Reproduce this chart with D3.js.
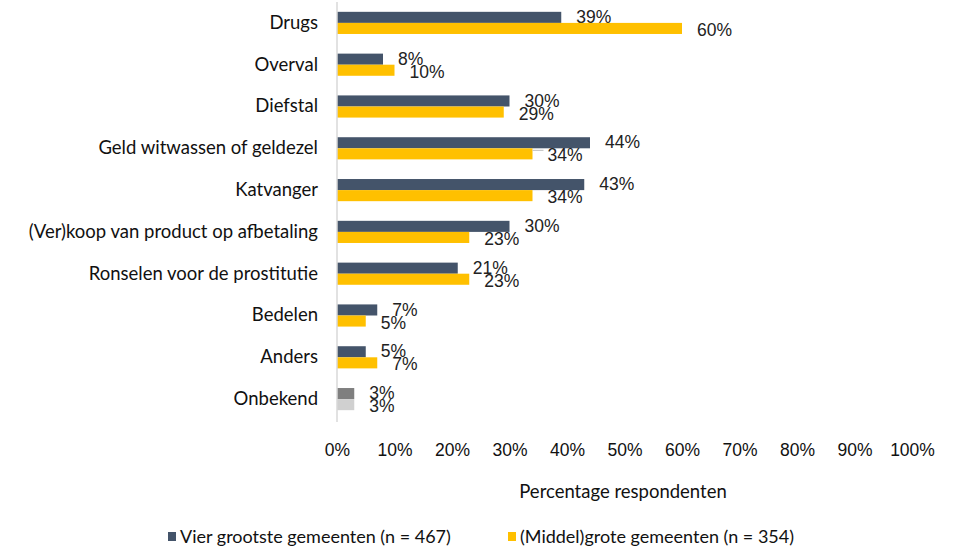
<!DOCTYPE html>
<html>
<head>
<meta charset="utf-8">
<script src="https://cdn.jsdelivr.net/npm/d3@7"></script>
<style>
  body { margin: 0; background: #fff; }
  svg { display: block; }
</style>
</head>
<body>
<svg width="958" height="549"></svg>
<script>
const categories = ['Drugs', 'Overval', 'Diefstal', 'Geld witwassen of geldezel', 'Katvanger',
    '(Ver)koop van product op afbetaling', 'Ronselen voor de prostitutie', 'Bedelen', 'Anders', 'Onbekend'];
const seriesNames = ['Vier grootste gemeenten (n = 467)', '(Middel)grote gemeenten (n = 354)'];
const vierGrootste = [39, 8, 30, 44, 43, 30, 21, 7, 5, 3];
const middelGrote = [60, 10, 29, 34, 34, 23, 23, 5, 7, 3];
const xTicks = [0, 10, 20, 30, 40, 50, 60, 70, 80, 90, 100];

const colors = ['#44546a', '#ffc000'];
const onbekendColors = ['#7f7f7f', '#d0d0d0'];

const svg = d3.select('svg');
const left = 337, right = 912;

const x = d3.scaleLinear().domain([0, 100]).range([left, right]);
const y = d3.scaleBand().domain(categories).range([2, 420])
    .paddingInner(0.47).paddingOuter(0.235);
const ySub = d3.scaleBand().domain([0, 1]).range([0, y.bandwidth()]);

const rows = categories.map((c, i) => ({ cat: c, vals: [vierGrootste[i], middelGrote[i]] }));

// bars + value labels
const g = svg.append('g');
rows.forEach(r => {
    r.vals.forEach((v, s) => {
        const fill = r.cat === 'Onbekend' ? onbekendColors[s] : colors[s];
        g.append('rect')
            .attr('x', x(0))
            .attr('y', y(r.cat) + ySub(s))
            .attr('width', x(v) - x(0))
            .attr('height', ySub.bandwidth())
            .attr('fill', fill);
        g.append('text')
            .attr('x', x(v) + 15)
            .attr('y', y(r.cat) + ySub(s) + ySub.bandwidth() / 2 + (s === 0 ? -0.5 : 1.5))
            .attr('dy', '0.35em')
            .attr('font-family', 'Liberation Sans, Arial, sans-serif')
            .attr('font-size', 17.5)
            .attr('fill', '#222')
            .text(v + '%');
    });
});

// small leader line on Geld witwassen yellow label
const gw = categories[3];
svg.append('line')
    .attr('x1', x(middelGrote[3])).attr('x2', x(middelGrote[3]) + 11)
    .attr('y1', y(gw) + ySub(1) + 2).attr('y2', y(gw) + ySub(1) + 2)
    .attr('stroke', '#bbb').attr('stroke-width', 1);

// y axis line and labels
svg.append('line')
    .attr('x1', left).attr('x2', left)
    .attr('y1', 2).attr('y2', 422)
    .attr('stroke', '#d9d9d9').attr('stroke-width', 1.5);

const yAxis = d3.axisLeft(y).tickSize(0).tickPadding(19);
const yG = svg.append('g').attr('transform', `translate(${left},0)`).call(yAxis);
yG.select('.domain').remove();
yG.selectAll('text')
    .attr('font-family', 'Lato, Open Sans, sans-serif')
    .attr('font-size', 18.5)
    .attr('fill', '#111');

// x axis tick labels
const xAxis = d3.axisBottom(x).tickValues(xTicks).tickFormat(d => d + '%').tickSize(0).tickPadding(0);
const xG = svg.append('g').attr('transform', 'translate(0,444)').call(xAxis);
xG.select('.domain').remove();
xG.selectAll('text')
    .attr('font-family', 'Liberation Sans, Arial, sans-serif')
    .attr('font-size', 17.5)
    .attr('fill', '#111');

svg.append('text')
    .attr('x', 623).attr('y', 498)
    .attr('text-anchor', 'middle')
    .attr('font-family', 'Lato, Open Sans, sans-serif')
    .attr('font-size', 18.5)
    .attr('fill', '#111')
    .text('Percentage respondenten');

// legend
const legendX = [168, 508];
seriesNames.forEach((n, i) => {
    svg.append('rect')
        .attr('x', legendX[i]).attr('y', 532)
        .attr('width', 8).attr('height', 9)
        .attr('fill', colors[i]);
    svg.append('text')
        .attr('x', legendX[i] + 12).attr('y', 543)
        .attr('font-family', 'Lato, Open Sans, sans-serif')
        .attr('font-size', 18)
        .attr('fill', '#111')
        .text(n);
});
</script>
</body>
</html>
